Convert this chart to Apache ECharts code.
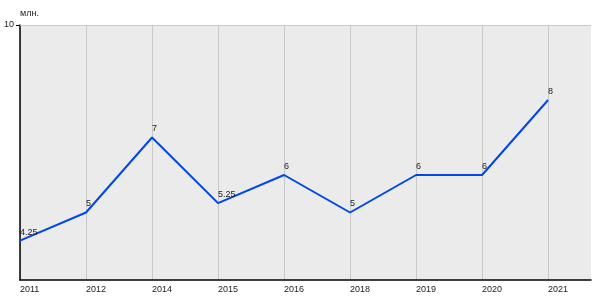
<!DOCTYPE html>
<html><head><meta charset="utf-8">
<script src="https://cdn.jsdelivr.net/npm/echarts@6/dist/echarts.min.js"></script>
<style>html,body{margin:0;padding:0;background:#fff}#c{width:600px;height:300px}</style>
</head><body><div id="c"></div>
<script>
var categories = ['2011','2012','2014','2015','2016','2018','2019','2020','2021'];
var values = [4.25, 5, 7, 5.25, 6, 5, 6, 6, 8];
var yTickLabels = [10];
var unitName = 'млн.';

var chart = echarts.init(document.getElementById('c'), null, {renderer:'canvas'});
var font = 'Liberation Sans, Arial, sans-serif';
var gridColors = categories.map(function(){return '#c8c8c8';});
gridColors.push('rgba(0,0,0,0)');
chart.setOption({
  animation: false,
  grid: {left: 20, top: 25, right: 9, bottom: 20, show: true, backgroundColor: '#ebebeb', borderWidth: 0},
  xAxis: {
    type: 'value', min: 0, max: 8.65, interval: 1,
    axisLine: {show: true, lineStyle: {color: '#000', width: 1.5}},
    axisTick: {show: false},
    splitLine: {show: true, lineStyle: {color: gridColors, width: 1}},
    axisLabel: {
      show: true, align: 'left', margin: 5, color: '#222', fontSize: 9, fontFamily: font,
      showMaxLabel: true,
      formatter: function(v){ var i = Math.round(v); return (Math.abs(v - i) < 1e-6 && categories[i]) ? categories[i] : ''; }
    }
  },
  yAxis: {
    type: 'value', min: 3.2, max: 10, interval: 0.4,
    name: unitName, nameLocation: 'end', nameGap: 7,
    nameTextStyle: {align: 'left', color: '#222', fontSize: 9, fontFamily: font},
    axisLine: {show: true, lineStyle: {color: '#000', width: 1.5}},
    axisTick: {show: true, length: 4, customValues: yTickLabels, lineStyle: {color: '#000'}},
    axisLabel: {show: true, customValues: yTickLabels, margin: 6, color: '#222', fontSize: 9, fontFamily: font},
    splitLine: {show: false}
  },
  series: [{
    type: 'line',
    data: values.map(function(v, i){ return [i, v]; }),
    showSymbol: true, symbol: 'circle', symbolSize: 0,
    lineStyle: {color: '#0047e6', width: 2},
    itemStyle: {color: '#0047e6'},
    label: {show: true, position: 'top', distance: 4, align: 'left', color: '#222', fontSize: 9, fontFamily: font},
    markLine: {
      silent: true, symbol: 'none', animation: false,
      label: {show: false},
      lineStyle: {color: '#c8c8c8', type: 'solid', width: 1},
      data: yTickLabels.map(function(v){ return {yAxis: v}; })
    }
  }]
});
</script></body></html>
